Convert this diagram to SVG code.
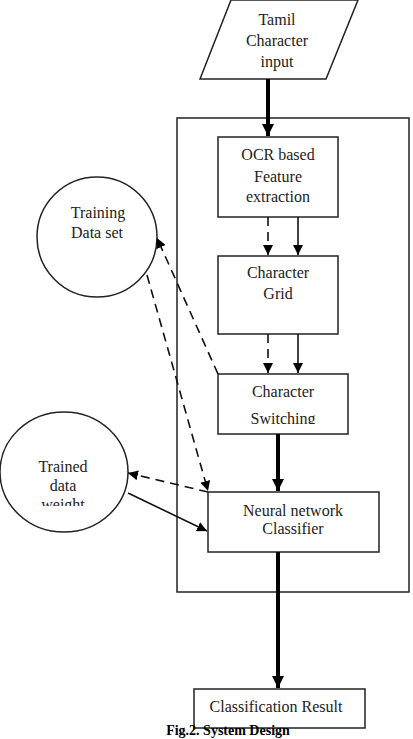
<svg xmlns="http://www.w3.org/2000/svg" width="413" height="739" viewBox="0 0 413 739">
<defs>
<style>
text{font-family:"Liberation Serif","Times New Roman",serif;font-size:16px;fill:#222;text-anchor:middle}
.box{fill:#fff;stroke:#222;stroke-width:1.5}
.thin{stroke:#111;stroke-width:1.6;fill:none}
.thick{stroke:#000;stroke-width:4;fill:none}
.dash{stroke:#111;stroke-width:1.6;fill:none;stroke-dasharray:9 6}
.cap{font-weight:bold;font-size:14px;fill:#000}
</style>
<marker id="ah" viewBox="0 0 10 10" refX="10" refY="5" markerWidth="10" markerHeight="10" markerUnits="userSpaceOnUse" orient="auto"><path d="M0,0 L10,5 L0,10 z" fill="#000"/></marker>
<marker id="ahT" viewBox="0 0 10 10" refX="10" refY="5" markerWidth="12" markerHeight="12" markerUnits="userSpaceOnUse" orient="auto"><path d="M0,0 L10,5 L0,10 z" fill="#000"/></marker>
<clipPath id="cSw"><rect x="218" y="374" width="130" height="50"/></clipPath>
<clipPath id="cTw"><rect x="0" y="410" width="140" height="96"/></clipPath>
</defs>
<rect width="413" height="739" fill="#fff"/>
<g font-family="Liberation Serif, serif">
<g id="frame"><rect x="177" y="118" width="232" height="474" fill="none" stroke="#222" stroke-width="1.5"/></g>
<g id="input">
<polygon class="box" points="231,0 358,0 326,79 200,79"/>
<text x="277" y="25">Tamil</text>
<text x="277" y="46">Character</text>
<text x="277" y="67">input</text>
</g>
<g id="ocr">
<rect class="box" x="218" y="137" width="120" height="80"/>
<text x="278" y="160">OCR based</text>
<text x="278" y="182">Feature</text>
<text x="278" y="202">extraction</text>
</g>
<g id="grid">
<rect class="box" x="218" y="256" width="120" height="78"/>
<text x="278" y="278">Character</text>
<text x="278" y="299">Grid</text>
</g>
<g id="switching">
<rect class="box" x="218" y="374" width="130" height="60"/>
<text x="283" y="397">Character</text>
<text x="283" y="424" clip-path="url(#cSw)">Switching</text>
</g>
<g id="classifier">
<rect class="box" x="208" y="492" width="171" height="60"/>
<text x="293" y="516">Neural network</text>
<text x="293" y="534">Classifier</text>
</g>
<g id="result">
<rect class="box" x="194" y="689" width="171" height="39"/>
<text x="276" y="712">Classification Result</text>
</g>
<g id="training">
<circle cx="97" cy="237" r="60" fill="#fff" stroke="#222" stroke-width="1.5"/>
<text x="98" y="218">Training</text>
<text x="97" y="238">Data set</text>
</g>
<g id="trained">
<ellipse cx="64" cy="472" rx="64" ry="60" fill="#fff" stroke="#222" stroke-width="1.5"/>
<text x="63" y="472">Trained</text>
<text x="63" y="491">data</text>
<text x="63" y="510" clip-path="url(#cTw)">weight</text>
</g>
<g id="connectors">
<line class="thick" x1="268" y1="79" x2="268" y2="136" marker-end="url(#ahT)"/>
<line class="dash" x1="268" y1="217" x2="268" y2="255" marker-end="url(#ah)"/>
<line class="thin" x1="298" y1="217" x2="298" y2="255" marker-end="url(#ah)"/>
<line class="dash" x1="268" y1="334" x2="268" y2="373" marker-end="url(#ah)"/>
<line class="thin" x1="298" y1="334" x2="298" y2="373" marker-end="url(#ah)"/>
<line class="thick" x1="278" y1="434" x2="278" y2="491" marker-end="url(#ahT)"/>
<line class="thick" x1="278" y1="552" x2="278" y2="688" marker-end="url(#ahT)"/>
<line class="dash" x1="218" y1="374" x2="157" y2="238" marker-end="url(#ah)"/>
<line class="dash" x1="147" y1="275" x2="208" y2="491" marker-end="url(#ah)"/>
<line class="dash" x1="208" y1="492" x2="128" y2="473" marker-end="url(#ah)"/>
<line class="thin" x1="128" y1="493" x2="207" y2="531" marker-end="url(#ah)"/>
</g>
<text class="cap" x="228" y="735">Fig.2. System Design</text>
</g>
</svg>
